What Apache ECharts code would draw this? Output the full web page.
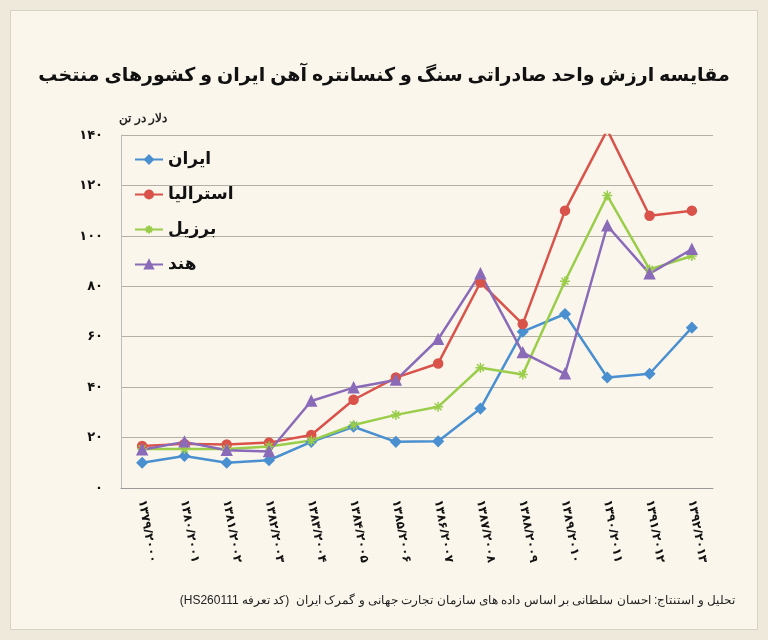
<!DOCTYPE html>
<html><head><meta charset="utf-8">
<script src="https://cdn.jsdelivr.net/npm/echarts@6/dist/echarts.min.js"></script>
<style>html,body{margin:0;padding:0;background:#efe9dc}
#c{position:absolute;left:10px;top:10px;width:746px;height:618px;background:#faf6ec;border:1px solid #d8d2c4}</style>
</head><body><div id="c"></div>
<script>
const categories = ['۱۳۷۹/۲۰۰۰','۱۳۸۰/۲۰۰۱','۱۳۸۱/۲۰۰۲','۱۳۸۲/۲۰۰۳','۱۳۸۳/۲۰۰۴','۱۳۸۴/۲۰۰۵','۱۳۸۵/۲۰۰۶','۱۳۸۶/۲۰۰۷','۱۳۸۷/۲۰۰۸','۱۳۸۸/۲۰۰۹','۱۳۸۹/۲۰۱۰','۱۳۹۰/۲۰۱۱','۱۳۹۱/۲۰۱۲','۱۳۹۲/۲۰۱۳'];
const iran = [10,12.7,10,11,18.3,24.3,18.3,18.5,31.5,62,69,43.8,45.3,63.6];
const australia = [16.7,17.5,17.3,18,21,35,43.8,49.4,81.5,65,110,142,108,110];
const brazil = [15.5,15.5,15.5,16.5,18.8,25,29,32.2,47.7,45,82,116,86.7,92];
const india = [15.2,18.3,15,14.5,34.5,39.8,42.8,59,85,53.7,45.3,104,85,94.7];
const names = ['ایران','استرالیا','برزیل','هند'];
const fa = n => String(n).replace(/\d/g, d => '۰۱۲۳۴۵۶۷۸۹'[d]);
const star = 'path://M5,0L5,10M0,5L10,5M1.5,1.5L8.5,8.5M8.5,1.5L1.5,8.5';
const chart = echarts.init(document.getElementById('c'));
const mk = (name, data, color, symbol, size) => ({name, type:'line', data, symbol, symbolSize:size,
  lineStyle:{color, width:2.5}, itemStyle:{color, borderColor:color, borderWidth:1.5}, emphasis:{disabled:true}});
chart.setOption({
  animation:false,
  textStyle:{fontFamily:'Noto Sans, DejaVu Sans'},
  title:{text:'مقایسه ارزش واحد صادراتی سنگ و کنسانتره آهن ایران و کشورهای منتخب', left:'center', top:50,
    textStyle:{fontSize:19, fontWeight:'bold', color:'#111'}},
  graphic:[
    {type:'text', right:590, top:102, style:{text:'دلار در تن', fontSize:12, fontWeight:'bold', fill:'#222', align:'right'}},
    {type:'text', right:22, top:584, style:{text:'\u202Bتحلیل و استنتاج: احسان سلطانی بر اساس داده های سازمان تجارت جهانی و گمرک ایران  (کد تعرفه HS260111)\u202C', fontSize:12, fill:'#222'}}
  ],
  legend:{orient:'vertical', left:118, top:135, itemGap:18, itemWidth:28, itemHeight:10,
    textStyle:{fontSize:17, fontWeight:'bold', color:'#111'}, data:names},
  grid:{left:110, right:44, top:124, bottom:141},
  xAxis:{type:'category', data:categories, boundaryGap:true,
    axisLine:{lineStyle:{color:'#999'}}, axisTick:{lineStyle:{color:'#999'}},
    axisLabel:{rotate:-80, fontSize:12, fontWeight:'bold', color:'#111', margin:12}},
  yAxis:{type:'value', min:0, max:140, interval:20,
    axisLine:{show:true, lineStyle:{color:'#bbb'}},
    splitLine:{lineStyle:{color:'#b5b0a5'}},
    axisLabel:{formatter:v=>fa(v), fontSize:13, fontWeight:'bold', color:'#111', margin:18}},
  series:[
    mk(names[0], iran, '#4a90d0', 'diamond', 10),
    mk(names[1], australia, '#d9534a', 'circle', 9),
    mk(names[2], brazil, '#9acd4a', star, 10),
    mk(names[3], india, '#8a6bb8', 'triangle', 10)
  ]
});
</script></body></html>
